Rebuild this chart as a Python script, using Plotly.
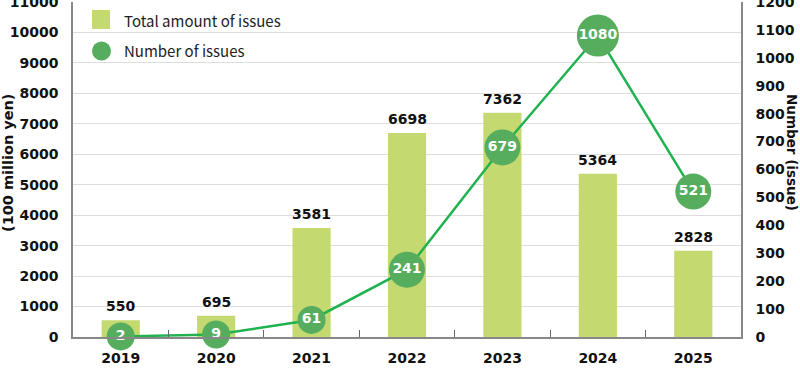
import plotly.graph_objects as go

years = ["2019", "2020", "2021", "2022", "2023", "2024", "2025"]
amount = [550, 695, 3581, 6698, 7362, 5364, 2828]
count = [2, 9, 61, 241, 679, 1080, 521]
left_ticks = list(range(0, 11001, 1000))
right_ticks = list(range(0, 1201, 100))

NUMFONT = "DejaVu Sans"
TXTFONT = "Noto Sans CJK JP"
BAR_COLOR = "#c4da70"
DOT_COLOR = "#57ad5e"
LINE_COLOR = "#20b24f"

W, H = 800, 373
ML, MR, MT, MB = 73, 59, 2, 36
PW, PH = W - ML - MR, H - MT - MB


def px(x):
    return (x - ML) / PW


def py(y):
    return (H - MB - y) / PH


sizes = [28 if len(str(v)) <= 2 else (36 if len(str(v)) == 3 else 42) for v in count]

fig = go.Figure()
fig.add_trace(go.Bar(
    x=years, y=amount, name="Total amount of issues",
    marker=dict(color=BAR_COLOR, line=dict(width=0)),
    yaxis="y", showlegend=False, hoverinfo="skip",
))
fig.add_trace(go.Scatter(
    x=years, y=count, name="Number of issues", yaxis="y2",
    mode="lines+markers+text",
    line=dict(color=LINE_COLOR, width=2.5),
    marker=dict(size=sizes, color=DOT_COLOR, opacity=1, line=dict(width=0)),
    text=[str(v) for v in count], textposition="middle center",
    textfont=dict(family=NUMFONT, size=14, color="white", weight="bold"),
    cliponaxis=False, showlegend=False, hoverinfo="skip",
))

for i, v in enumerate(amount):
    fig.add_annotation(
        x=i, y=v, xref="x", yref="y", text=str(v), showarrow=False,
        yanchor="bottom", yshift=4,
        font=dict(family=NUMFONT, size=14, color="#111111", weight="bold"),
    )

# legend drawn manually
fig.add_shape(type="rect", xref="paper", yref="paper",
              x0=px(92), x1=px(110), y0=py(29), y1=py(10),
              fillcolor=BAR_COLOR, line=dict(width=0))
fig.add_shape(type="circle", xref="paper", yref="paper",
              x0=px(92), x1=px(111), y0=py(60.5), y1=py(41.5),
              fillcolor=DOT_COLOR, line=dict(width=0))
fig.add_annotation(text="Total amount of issues", xref="paper", yref="paper",
                   x=px(122), y=py(20), xanchor="left", yanchor="middle", showarrow=False,
                   font=dict(family=TXTFONT, size=15, color="#222222"))
fig.add_annotation(text="Number of issues", xref="paper", yref="paper",
                   x=px(122), y=py(51), xanchor="left", yanchor="middle", showarrow=False,
                   font=dict(family=TXTFONT, size=15, color="#222222"))

fig.update_layout(
    width=W, height=H,
    margin=dict(l=ML, r=MR, t=MT, b=MB),
    paper_bgcolor="white", plot_bgcolor="white",
    font=dict(family=NUMFONT, color="#111111"),
    bargap=0.6,
    showlegend=False,
    hovermode=False,
    xaxis=dict(
        type="category", range=[-0.5, len(years) - 0.5],
        showgrid=False, showline=True, linecolor="#888888", linewidth=1.5,
        ticks="inside", tickson="boundaries", ticklen=7, tickcolor="#666666",
        tickangle=0, ticklabelstandoff=7,
        tickfont=dict(family=NUMFONT, size=14, color="#111111", weight="bold"),
        automargin=False,
    ),
    yaxis=dict(
        range=[0, 11000], tickvals=left_ticks, ticktext=[str(v) for v in left_ticks],
        showgrid=True, gridcolor="#dddddd", gridwidth=1.2,
        showline=True, linecolor="#888888", linewidth=1.5, zeroline=False,
        ticks="", ticklabelstandoff=10, automargin=False, ticklabeloverflow="allow",
        tickfont=dict(family=NUMFONT, size=14, color="#111111", weight="bold"),
    ),
    yaxis2=dict(
        range=[0, 1200], tickvals=right_ticks, ticktext=[str(v) for v in right_ticks],
        overlaying="y", side="right", showgrid=False,
        showline=True, linecolor="#888888", linewidth=1.5, zeroline=False,
        ticks="", ticklabelstandoff=10, automargin=False, ticklabeloverflow="allow",
        tickfont=dict(family=NUMFONT, size=14, color="#111111", weight="bold"),
    ),
)
fig.add_annotation(
    text="(100 million yen)", xref="paper", yref="paper", x=px(8), y=py(163),
    textangle=-90, showarrow=False, xanchor="center", yanchor="middle",
    font=dict(family=NUMFONT, size=14.5, color="#111111", weight="bold"),
)
fig.add_annotation(
    text="Number (issue)", xref="paper", yref="paper", x=px(792), y=py(152),
    textangle=90, showarrow=False, xanchor="center", yanchor="middle",
    font=dict(family=NUMFONT, size=13.5, color="#111111", weight="bold"),
)
fig.write_html("out.html", config={"displayModeBar": False},
               post_script="document.body.style.margin='0';")
